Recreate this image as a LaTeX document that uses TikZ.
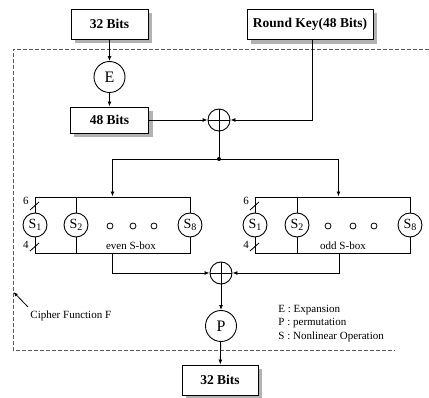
\documentclass[tikz,border=0pt]{standalone}
\usepackage{fontspec}
\setmainfont{Liberation Serif}
\usetikzlibrary{arrows.meta,backgrounds}
\begin{document}
\begin{tikzpicture}[x=1pt,y=-1pt,
  line width=0.9pt,
  arr/.style={-{Latex[length=5pt,width=4pt]}},
  box/.style={draw,fill=white,minimum height=30pt,inner sep=0pt,
    font=\fontsize{13.5}{15}\selectfont\bfseries},
  shade/.style={fill=gray!60,draw=none},
  opc/.style={draw,circle,fill=white,minimum size=31pt,inner sep=0pt,font=\fontsize{16}{18}\selectfont},
  xorc/.style={draw,circle,minimum size=22pt,inner sep=0pt,
    path picture={\draw (path picture bounding box.north) -- (path picture bounding box.south)
      (path picture bounding box.west) -- (path picture bounding box.east);}},
  sc/.style={draw,circle,fill=white,minimum size=24pt,inner sep=0pt,font=\fontsize{14}{15}\selectfont},
  dotc/.style={draw,circle,minimum size=6pt,inner sep=0pt,line width=0.8pt},
  sbox/.style={draw,minimum width=155pt,minimum height=56pt,inner sep=0pt},
  small/.style={font=\fontsize{11}{12}\selectfont,inner sep=0pt},
  frame/.style={dashed,line width=0.5pt,gray!70!black,dash pattern=on 4pt off 2pt},
  slash/.style={line width=0.8pt}
]
\useasboundingbox (0,0) rectangle (429,398);

% dashed frame of the cipher function
\draw[frame] (429,49) -- (13,49) -- (13,350) -- (395,350);

% top part
\node[box,minimum width=77pt] (in) at (109.5,24) {32 Bits};
\node[box,minimum width=126pt] (key) at (310,24.5) {Round Key(48 Bits)};
\node[opc] (E) at (109.5,77) {E};
\node[box,minimum width=78pt,minimum height=26pt] (b48) at (109.5,120) {48 Bits};
\node[xorc] (x1) at (219,120) {};
\coordinate (j) at (219,159);

\draw[arr] (in) -- (E);
\draw[arr] (E) -- (b48);
\draw[arr] (b48) -- (x1);
\draw[arr] ([xshift=2pt]key.south) |- (x1);
\draw (x1) -- (j);
\fill (j) circle (2pt);

% S-box blocks
\node[sbox] (L) at (112.5,225) {};
\node[sbox] (R) at (332.5,225) {};

\draw[arr] (j) -| (L.north);
\draw[arr] (j) -| ([xshift=6pt]R.north);

% left block contents
\draw (76,197) -- (76,253);
\node[sc] (ls1) at (35,225) {S\raisebox{-0.25ex}{\fontsize{10}{10}\selectfont 1}};
\node[sc] (ls2) at (76,225) {S\raisebox{-0.25ex}{\fontsize{10}{10}\selectfont 2}};
\node[sc] (ls8) at (190,225) {S\raisebox{-0.25ex}{\fontsize{10}{10}\selectfont 8}};
\node[dotc] (ld1) at (110,226) {};
\node[dotc] (ld2) at (133,226) {};
\node[dotc] (ld3) at (154,226) {};
\draw[slash] (30,210) -- (39,202);
\draw[slash] (30,251) -- (39,243);
\node[small] (l6) at (26,201) {6};
\node[small] (l4) at (26,245) {4};
\node[small] (lt) at (131,246) {even S-box};

% right block contents
\draw (297,197) -- (297,253);
\node[sc] (rs1) at (255,225) {S\raisebox{-0.25ex}{\fontsize{10}{10}\selectfont 1}};
\node[sc] (rs2) at (297,225) {S\raisebox{-0.25ex}{\fontsize{10}{10}\selectfont 2}};
\node[sc] (rs8) at (410,225) {S\raisebox{-0.25ex}{\fontsize{10}{10}\selectfont 8}};
\node[dotc] (rd1) at (328,226) {};
\node[dotc] (rd2) at (353,226) {};
\node[dotc] (rd3) at (374,226) {};
\draw[slash] (250,210) -- (259,202);
\draw[slash] (250,251) -- (259,243);
\node[small] (r6) at (246,201) {6};
\node[small] (r4) at (246,245) {4};
\node[small] (rt) at (343,246) {odd S-box};

% bottom part
\node[xorc] (x2) at (221,273) {};
\node[opc] (P) at (221,326) {P};
\node[box,minimum width=76pt] (out) at (220,380) {32 Bits};

\draw[arr] (L.south) |- (x2);
\draw[arr] ([xshift=7pt]R.south) |- (x2);
\draw[arr] (x2) -- (P);
\draw[arr] (P) -- (out);

% drop shadows of the boxes
\begin{scope}[on background layer]
  \foreach \b in {in,key,b48,out}
    \fill[shade] ([shift={(4,4)}]\b.north west) rectangle ([shift={(4,4)}]\b.south east);
\end{scope}

% legend
\node[small,anchor=west] (lgE) at (278,310) {E : Expansion};
\node[small,anchor=west] (lgP) at (278,323.5) {P : permutation};
\node[small,anchor=west] (lgS) at (278,337) {S : Nonlinear Operation};

% cipher function label
\node[small,anchor=west] (cf) at (30,316) {Cipher Function F};
\coordinate (cft) at (28,307);
\coordinate (cfh) at (13.5,292);
\draw[-{Latex[length=4.5pt,width=3.5pt]},line width=0.8pt] (cft) -- (cfh);
\end{tikzpicture}
\end{document}
